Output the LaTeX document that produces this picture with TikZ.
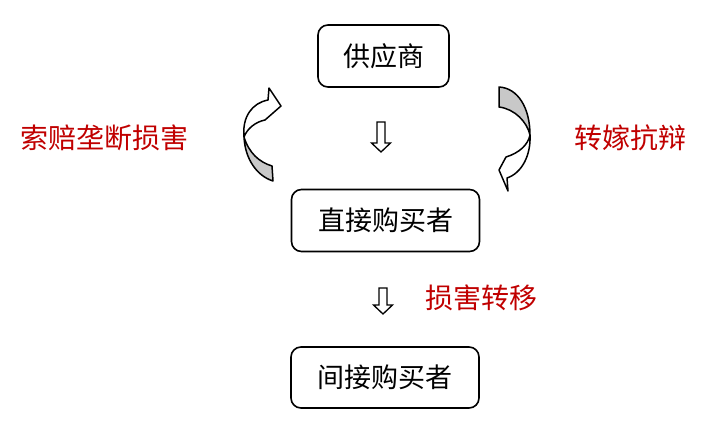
\documentclass[tikz,border=0pt]{standalone}
\usepackage{fontspec}
\newfontfamily\cjk{Noto Sans CJK SC}
\definecolor{lblred}{RGB}{192,0,0}
\definecolor{backgray}{RGB}{200,200,200}
\begin{document}
\begin{tikzpicture}[x=1pt,y=-1pt,
  box/.style={draw, line width=1.6pt, rounded corners=10pt, inner sep=0pt,
    font=\cjk\fontsize{27}{30}\selectfont},
  lbl/.style={text=lblred, inner sep=0pt, font=\cjk\fontsize{28}{30}\selectfont},
  blk/.style={draw, line width=1.3pt, line join=miter, fill=white},
  curv/.style={draw, line width=1.5pt, line join=round}]
\useasboundingbox (0,0) rectangle (718,431);
% boxes
\node[box, minimum width=131pt, minimum height=62pt] (sup) at (383.5,56) {供应商};
\node[box, minimum width=188pt, minimum height=62pt] (dir) at (385.5,220.5) {直接购买者};
\node[box, minimum width=188pt, minimum height=61pt] (ind) at (385,377.5) {间接购买者};
% labels
\node[lbl] (claim) at (104.5,138) {索赔垄断损害};
\node[lbl] (pass) at (630,138) {转嫁抗辩};
\node[lbl] (shift) at (481,298) {损害转移};
% down block arrows
\draw[blk] (377,122) -- (385,122) -- (385,143) -- (390.5,143) -- (381,152) -- (371.5,143) -- (377,143) -- cycle;
\draw[blk] (379,288) -- (387,288) -- (387,305) -- (392.5,305) -- (383,314) -- (373.5,305) -- (379,305) -- cycle;
% left curved arrow
\filldraw[curv, fill=backgray] (244,137) .. controls (245,159) and (257,176) .. (273,181) -- (272,166) .. controls (259,162) and (249,153) .. (244,137) -- cycle;
\filldraw[curv, fill=white] (244,137) .. controls (242,117) and (252,103) .. (268,100) -- (269,88) -- (281,106) -- (265,120) .. controls (255,122) and (247,129) .. (244,137) -- cycle;
% right curved arrow
\filldraw[curv, fill=backgray] (499,87) .. controls (518,88) and (530,108) .. (530,135) .. controls (527,122) and (515,109) .. (499,107) -- cycle;
\filldraw[curv, fill=white] (530,135) .. controls (531,155) and (522,173) .. (507,178) -- (508,191) -- (499,170) -- (506,157) .. controls (519,153) and (528,145) .. (530,135) -- cycle;
\end{tikzpicture}
\end{document}
